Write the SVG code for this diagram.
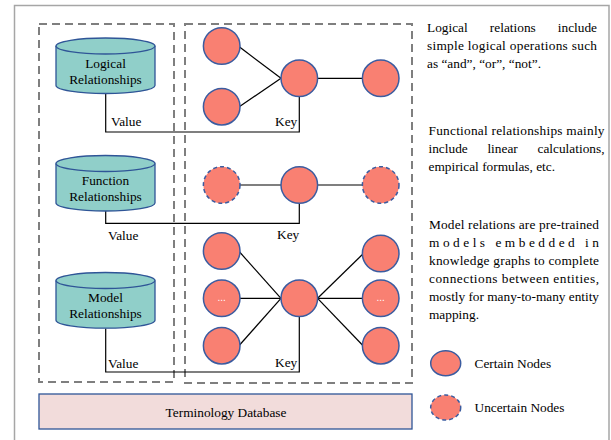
<svg xmlns="http://www.w3.org/2000/svg" width="611" height="440" viewBox="0 0 611 440">
<style>
  text { font-family: "Liberation Serif", "Times New Roman", serif; font-size: 13.33px; fill: #000; }
  .frame { fill: none; stroke: #a6a6a6; stroke-width: 1.5; }
  .dash { fill: none; stroke: #7f7f7f; stroke-width: 2; stroke-dasharray: 8 5; }
  .cyl { fill: #90cfc9; stroke: #2f5597; stroke-width: 1.3; }
  .node { fill: #f98072; stroke: #3b5ca0; stroke-width: 1.5; }
  .unc { fill: #f98072; stroke: #3b5ca0; stroke-width: 1.5; stroke-dasharray: 4 3; }
  .link { fill: none; stroke: #000; stroke-width: 1.2; }
  .mid { text-anchor: middle; }
  .dots { fill: #fff; font-family: "Liberation Sans", Arial, sans-serif; font-size: 10px; text-anchor: middle; }
</style>
<rect width="611" height="440" fill="#fff"/>
<rect class="frame" x="14.5" y="5.5" width="594.5" height="450"/>
<rect class="dash" x="39" y="24" width="135" height="358"/>
<rect class="dash" x="185" y="24" width="227" height="359"/>

<g id="connectors">
  <path class="link" d="M105.7 93.5 V132 H299.3 V96.6"/>
  <path class="link" d="M105.7 211 V223.3 H299.3 V203.3"/>
  <path class="link" d="M105.7 328.5 V372 H299.3 V316.6"/>
  <line class="link" x1="239.6" y1="47" x2="281" y2="78.3"/>
  <line class="link" x1="239.6" y1="106.5" x2="281" y2="78.3"/>
  <line class="link" x1="317.6" y1="78.3" x2="362.4" y2="78.3"/>
  <line class="link" x1="240" y1="185" x2="281" y2="185"/>
  <line class="link" x1="317.6" y1="185" x2="362.4" y2="185"/>
  <line class="link" x1="239.6" y1="252" x2="281" y2="298.3"/>
  <line class="link" x1="240" y1="298.3" x2="281" y2="298.3"/>
  <line class="link" x1="239.6" y1="345" x2="281" y2="298.3"/>
  <line class="link" x1="317.6" y1="298.3" x2="362.4" y2="254.5"/>
  <line class="link" x1="317.6" y1="298.3" x2="362.4" y2="298.3"/>
  <line class="link" x1="317.6" y1="298.3" x2="362.4" y2="345"/>
  <text x="111" y="125.5">Value</text>
  <text x="275" y="126">Key</text>
  <text x="108" y="239.5">Value</text>
  <text x="277" y="238.5">Key</text>
  <text x="108" y="368">Value</text>
  <text x="275" y="366.5">Key</text>
</g>

<g id="logical-relationships">
  <path class="cyl" d="M56 46 V85.5 A49.5 8 0 0 0 155 85.5 V46"/>
  <ellipse class="cyl" cx="105.5" cy="46" rx="49.5" ry="8"/>
  <text class="mid" x="105.5" y="67.5">Logical</text>
  <text class="mid" x="105.5" y="83.5">Relationships</text>
</g>
<g id="function-relationships">
  <path class="cyl" d="M56 163.5 V203 A49.5 8 0 0 0 155 203 V163.5"/>
  <ellipse class="cyl" cx="105.5" cy="163.5" rx="49.5" ry="8"/>
  <text class="mid" x="105.5" y="185">Function</text>
  <text class="mid" x="105.5" y="200.5">Relationships</text>
</g>
<g id="model-relationships">
  <path class="cyl" d="M56 280.5 V320.2 A49.5 8 0 0 0 155 320.2 V280.5"/>
  <ellipse class="cyl" cx="105.5" cy="280.5" rx="49.5" ry="8"/>
  <text class="mid" x="105.5" y="302">Model</text>
  <text class="mid" x="105.5" y="317.5">Relationships</text>
</g>

<g id="logical-nodes">
  <circle class="node" cx="221.7" cy="46" r="18.3"/>
  <circle class="node" cx="221.7" cy="106.7" r="18.3"/>
  <circle class="node" cx="299.3" cy="78.3" r="18.3"/>
  <circle class="node" cx="380.7" cy="78.3" r="18.3"/>
</g>
<g id="function-nodes">
  <circle class="unc" cx="221.7" cy="185" r="18.3"/>
  <circle class="node" cx="299.3" cy="185" r="18.3"/>
  <circle class="unc" cx="380.7" cy="185" r="18.3"/>
</g>
<g id="model-nodes">
  <circle class="node" cx="221.7" cy="251" r="18.3"/>
  <circle class="node" cx="221.7" cy="298.3" r="18.3"/>
  <circle class="node" cx="221.7" cy="345.7" r="18.3"/>
  <circle class="node" cx="299.3" cy="298.3" r="18.3"/>
  <circle class="node" cx="380.7" cy="253.5" r="18.3"/>
  <circle class="node" cx="380.7" cy="298.3" r="18.3"/>
  <circle class="node" cx="380.7" cy="345.7" r="18.3"/>
  <text class="dots" x="221.7" y="301">...</text>
  <text class="dots" x="380.7" y="301">...</text>
</g>

<g id="terminology-database">
  <rect x="39" y="394" width="373" height="35" fill="#f2dcdb" stroke="#2f5597" stroke-width="1.3"/>
  <text class="mid" x="226" y="416.5">Terminology Database</text>
</g>

<g id="descriptions">
  <text y="31.5"><tspan x="427">Logical</tspan><tspan x="512.8" text-anchor="middle">relations</tspan><tspan x="597" text-anchor="end">include</tspan></text>
  <text x="427" y="49.5" textLength="170" lengthAdjust="spacing">simple logical operations such</text>
  <text x="427" y="67.5">as “and”, “or”, “not”.</text>

  <text x="428.5" y="134.5" textLength="176" lengthAdjust="spacing">Functional relationships mainly</text>
  <text y="152.5"><tspan x="428.5">include</tspan><tspan x="502.6" text-anchor="middle">linear</tspan><tspan x="604.5" text-anchor="end">calculations,</tspan></text>
  <text x="428.5" y="170.5">empirical formulas, etc.</text>

  <text x="429" y="228.5" textLength="170" lengthAdjust="spacing">Model relations are pre-trained</text>
  <text x="429" y="246.5" textLength="170" lengthAdjust="spacing">models embedded in</text>
  <text x="429" y="264.5" textLength="170" lengthAdjust="spacing">knowledge graphs to complete</text>
  <text x="429" y="282.5" textLength="170" lengthAdjust="spacing">connections between entities,</text>
  <text x="429" y="300.5" textLength="170" lengthAdjust="spacing">mostly for many-to-many entity</text>
  <text x="429" y="318.5">mapping.</text>
</g>

<g id="legend">
  <ellipse class="node" cx="445.7" cy="363.3" rx="15" ry="12.5"/>
  <text x="474.5" y="367.5">Certain Nodes</text>
  <ellipse class="unc" cx="445.7" cy="407.5" rx="15" ry="12.5"/>
  <text x="474.5" y="412">Uncertain Nodes</text>
</g>
</svg>
